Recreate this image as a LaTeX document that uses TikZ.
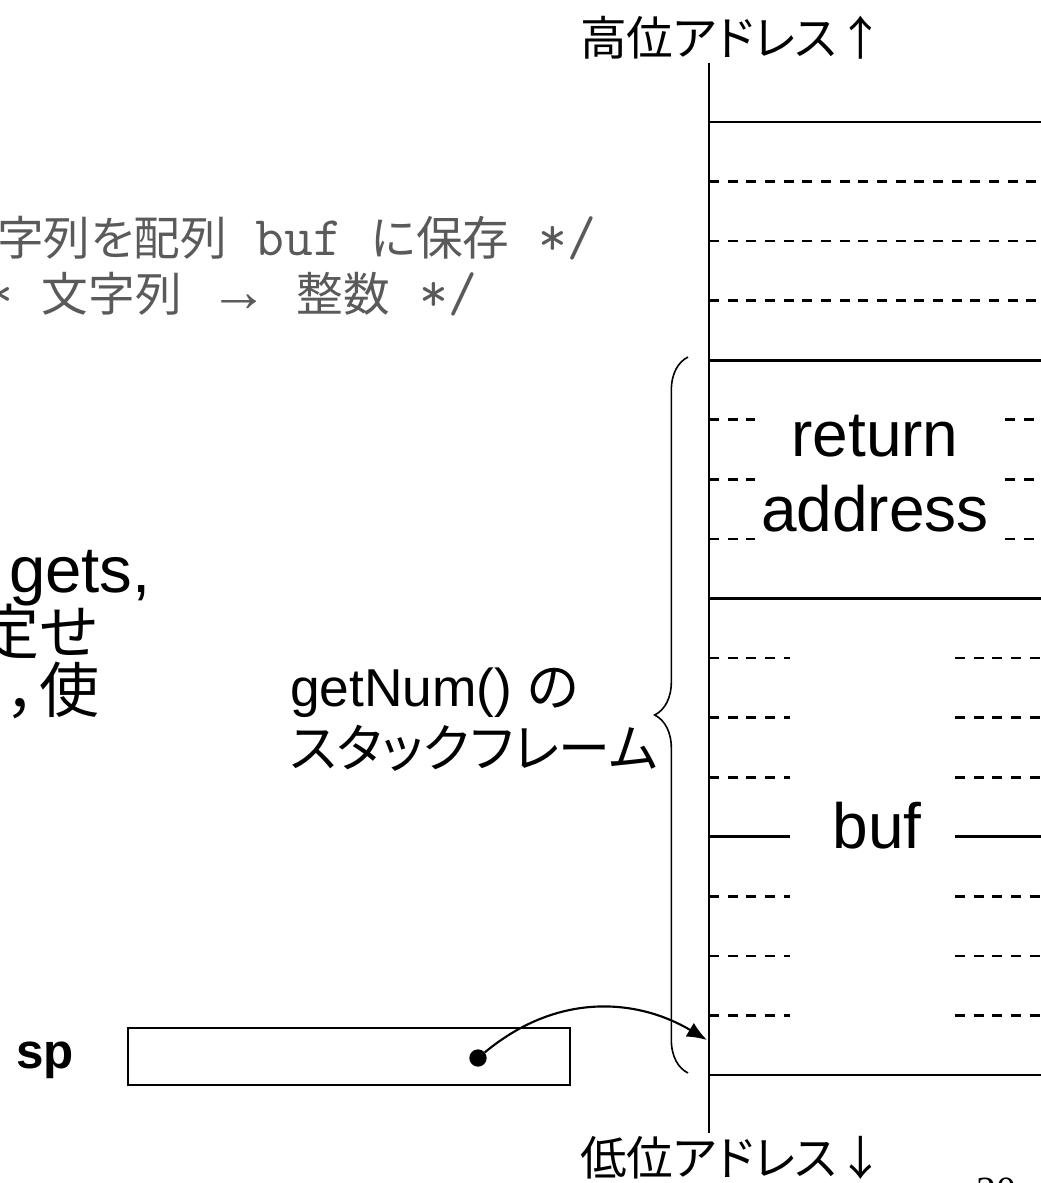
\documentclass[tikz,border=0pt]{standalone}
\usepackage{fontspec}
\setmainfont{Liberation Sans}
\newfontfamily\jpfont[RawFeature=+palt]{Noto Sans CJK JP}
\newfontfamily\codefont{Latin Modern Mono}
\newfontfamily\arrowfont{Liberation Mono}
\newfontfamily\pagefont{Liberation Serif}
\usetikzlibrary{arrows.meta,decorations.pathreplacing}
\definecolor{codegray}{RGB}{90,90,90}
\newcommand{\memrow}[1]{122+59.56*#1}
\newcommand{\cc}[1]{{\codefont\fontsize{42}{46}\selectfont#1}}
\tikzset{
	memline/.style={line width=2pt},
	memdash/.style={line width=2pt, dash pattern=on 7.5pt off 6.5pt},
	memtext/.style={inner sep=0pt, anchor=base, font=\fontsize{48}{52}\selectfont},
	addrtext/.style={inner sep=0pt, anchor=west, font=\jpfont\fontsize{35}{40}\selectfont},
	codetext/.style={inner sep=0pt, anchor=west, text=codegray, font=\jpfont\fontsize{35}{40}\selectfont},
	bodytext/.style={inner sep=0pt, font=\fontsize{49}{54}\selectfont},
	bodyjp/.style={inner sep=0pt, anchor=east, font=\jpfont\fontsize{45}{50}\selectfont},
}

\begin{document}
\begin{tikzpicture}[x=0.75pt, y=-0.75pt]
	\useasboundingbox (0,0) rectangle (1041,1183);

	\node[codetext] (codeA) at (-3,238) {字列を配列\cc{\ buf\ }に保存\cc{\ */}};
	\node[codetext] (codeB) at (-45,294) {\cc{/*\ }文字列\hspace{30pt}{\arrowfont\fontsize{44}{46}\selectfont →}\hspace{30pt}整数\cc{\ */}};

	\node[bodytext, anchor=base east] (fgets) at (151,592) {gets,};
	\node[bodyjp] (nosize) at (98,632) {定せ};
	\node[bodyjp] (nouse) at (100,690) {，使};

	\draw[memline] (709,63) -- (709,1133);
	\foreach \k in {0,4,8,16}
		\draw[memline] (709,{\memrow{\k}}) -- (1041,{\memrow{\k}});
	\foreach \k in {1,2,3}
		\draw[memdash] (709,{\memrow{\k}}) -- (1041,{\memrow{\k}});
	\foreach \k in {5,6,7} {
		\draw[memdash] (709,{\memrow{\k}}) -- (755,{\memrow{\k}});
		\draw[memdash] (1005,{\memrow{\k}}) -- (1041,{\memrow{\k}});
	}
	\foreach \k in {9,10,11,13,14,15} {
		\draw[memdash] (709,{\memrow{\k}}) -- (790,{\memrow{\k}});
		\draw[memdash] (955,{\memrow{\k}}) -- (1041,{\memrow{\k}});
	}
	\draw[memline] (709,{\memrow{12}}) -- (790,{\memrow{12}});
	\draw[memline] (955,{\memrow{12}}) -- (1041,{\memrow{12}});

	\node[addrtext] (high) at (580,38) {高位アドレス↑};
	\node[addrtext] (low) at (580,1158) {低位アドレス↓};

	\node[memtext] (retaddr) at (875,456) {return};
	\node[memtext] (retaddrB) at (875,531) {address};
	\node[memtext] (buf) at (877,848) {buf};

	\draw[line width=1.2pt, decorate, decoration={brace, amplitude=25pt}] (688,1073) -- (688,357);
	\node[inner sep=0pt, anchor=base west, font=\fontsize{40}{44}\selectfont] (frameA) at (290,706) {getNum() {\jpfont の}};
	\node[inner sep=0pt, anchor=west, font=\jpfont\fontsize{39}{44}\selectfont] (frameB) at (290,748) {スタックフレーム};

	\node[inner sep=0pt, anchor=base west, font=\bfseries\fontsize{37}{40}\selectfont] (splabel) at (16,1068) {sp};
	\node[draw, line width=1.5pt, minimum width=331.5pt, minimum height=42.75pt] (spbox) at (349,1056.5) {};
	\node[circle, fill, inner sep=0pt, minimum size=13pt] (spdot) at (478,1058) {};
	\coordinate (spaddr) at (707,1040);
	\draw[line width=1.6pt, -{Latex[length=15pt,width=12pt]}] (spdot) .. controls (560,990) and (640,1000) .. (spaddr);

	\node[inner sep=0pt, anchor=base west, font=\pagefont\fontsize{30}{36}\selectfont] (pagenum) at (976,1204) {20};
\end{tikzpicture}
\end{document}
